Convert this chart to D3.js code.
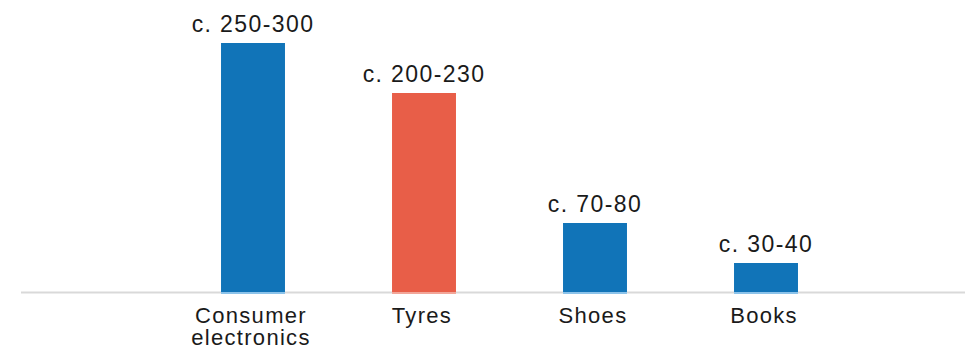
<!DOCTYPE html>
<html>
<head>
<meta charset="utf-8">
<script src="https://cdn.jsdelivr.net/npm/d3@7"></script>
<style>
  html, body { margin: 0; padding: 0; background: #ffffff; }
  svg { display: block; }
  text { font-family: "Liberation Sans", Arial, Helvetica, sans-serif; fill: #1a1a1a; }
</style>
</head>
<body>
<svg id="chart" width="968" height="349"></svg>
<script>
// Categories (label lines), bar values (lower bound of each range) and range labels
const categories = ["Consumer electronics", "Tyres", "Shoes", "Books"];
const labelLines = [["Consumer", "electronics"], ["Tyres"], ["Shoes"], ["Books"]];
const values = [250, 200, 70, 30];
const rangeLabels = ["c. 250-300", "c. 200-230", "c. 70-80", "c. 30-40"];
const barColors = ["#1174b8", "#e85e48", "#1174b8", "#1174b8"];
const edgeColors = ["#8cc3ea", "#f2a699", "#8cc3ea", "#8cc3ea"];

const svg = d3.select("#chart");
const baseY = 293;

const x = d3.scaleBand()
  .domain(categories)
  .range([167.5, 851.5])
  .paddingInner(0.626)
  .paddingOuter(0.313);

const y = d3.scaleLinear()
  .domain([0, 250])
  .range([baseY, 43]);

// Baseline
svg.append("line")
  .attr("x1", 21).attr("x2", 965)
  .attr("y1", baseY - 0.5).attr("y2", baseY - 0.5)
  .attr("stroke", "#d9d9d9")
  .attr("stroke-width", 2);

// Bars
svg.selectAll("rect.bar")
  .data(categories)
  .join("rect")
  .attr("class", "bar")
  .attr("x", d => x(d))
  .attr("width", x.bandwidth())
  .attr("y", (d, i) => y(values[i]))
  .attr("height", (d, i) => y(0) - y(values[i]) - 1)
  .attr("fill", (d, i) => barColors[i]);

// Light foot under each bar
svg.selectAll("rect.foot")
  .data(categories)
  .join("rect")
  .attr("class", "foot")
  .attr("x", d => x(d))
  .attr("width", x.bandwidth())
  .attr("y", y(0) - 1)
  .attr("height", 2)
  .attr("fill", (d, i) => edgeColors[i]);

// Range labels above bars
svg.selectAll("text.value")
  .data(categories)
  .join("text")
  .attr("class", "value")
  .attr("x", d => x(d) + x.bandwidth() / 2)
  .attr("y", (d, i) => y(values[i]) - 11)
  .attr("text-anchor", "middle")
  .attr("font-size", 23)
  .attr("letter-spacing", 1.4)
  .text((d, i) => rangeLabels[i]);

// Category labels below the axis
const cat = svg.selectAll("text.cat")
  .data(categories)
  .join("text")
  .attr("class", "cat")
  .attr("x", d => x(d) + x.bandwidth() / 2 - 2)
  .attr("y", 323)
  .attr("text-anchor", "middle")
  .attr("font-size", 22)
  .attr("letter-spacing", 1.3);

cat.selectAll("tspan")
  .data((d, i) => labelLines[i].map(t => ({ t, cx: x(d) + x.bandwidth() / 2 - 2 })))
  .join("tspan")
  .attr("x", d => d.cx)
  .attr("dy", (d, j) => j === 0 ? 0 : 22)
  .text(d => d.t);
</script>
</body>
</html>
